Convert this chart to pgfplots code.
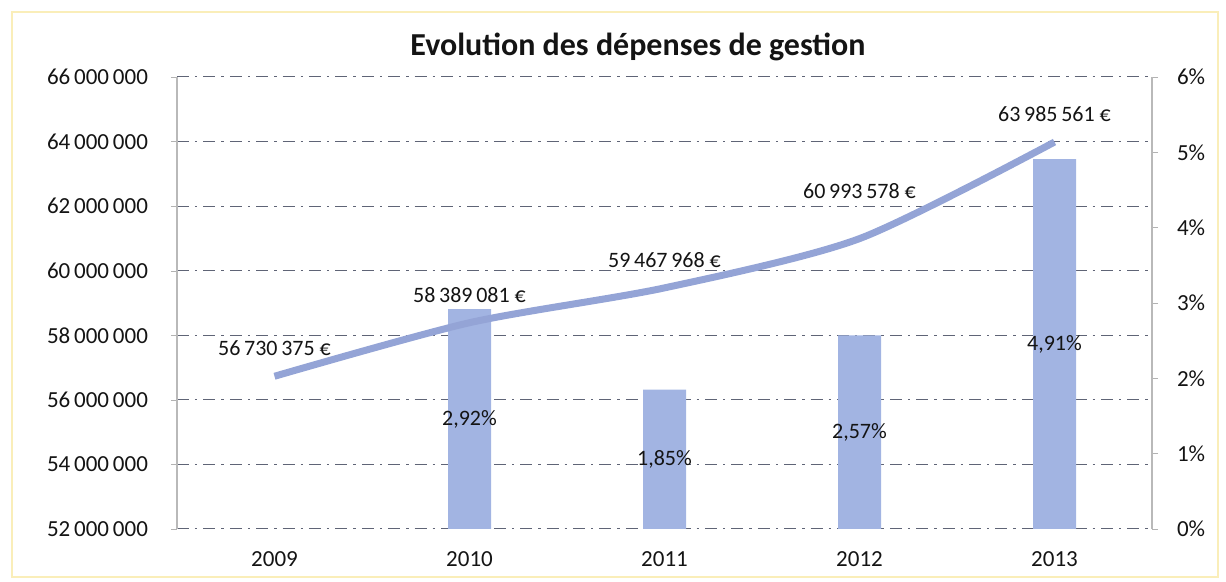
\documentclass[border=0pt]{standalone}
\usepackage{pgfplots}
\pgfplotsset{compat=1.18}
\usepackage{fontspec}
\setmainfont{Carlito}
\definecolor{barblue}{RGB}{162,180,226}
\definecolor{lineblue}{RGB}{148,164,214}
\definecolor{gridc}{RGB}{95,100,118}
\definecolor{framey}{RGB}{250,238,185}
\definecolor{txt}{RGB}{20,20,20}
\begin{document}
\begin{tikzpicture}
\pgfplotsset{
  base/.style={at={(0,0)}, anchor=south west, scale only axis,
    width=487.5pt, height=226pt, xmin=-0.5, xmax=4.5,
    /pgf/number format/assume math mode=true,
    tick label style={font=\fontsize{11.5}{13}\selectfont, text=txt}},
}
\path[use as bounding box] (-88.5pt,-26.5pt) rectangle (524.5pt,264.5pt);
\draw[framey, line width=1.2pt] (-82.5pt,-24pt) rectangle (520.5pt,258.5pt);

% Axis A: left scale, grid, year labels
\begin{axis}[base,
  ymin=52000000, ymax=66000000,
  ytick={52000000,54000000,56000000,58000000,60000000,62000000,64000000,66000000},
  scaled y ticks=false,
  yticklabel style={/tikz/xshift=-8pt, /pgf/number format/.cd, fixed, precision=0, 1000 sep={\,}},
  axis y line*=left, axis x line*=bottom,
  x axis line style={draw=none},
  y axis line style={gray!55, line width=0.6pt},
  xtick={0,1,2,3,4}, xticklabels={2009,2010,2011,2012,2013},
  major x tick style={draw=none},
  xticklabel style={yshift=-5pt},
  tick align=outside, major tick length=3pt, major y tick style={gray!60},
  ymajorgrids, major grid style={gridc, line width=0.5pt, dash pattern=on 6pt off 3pt on 1.2pt off 3pt},
]
\addplot[draw=none] coordinates {(0,52000000)};
\end{axis}

% Axis B: bars, right scale
\begin{axis}[base,
  ymin=0, ymax=6, ytick={0,1,2,3,4,5,6},
  yticklabel={\pgfmathprintnumber{\tick}\%},
  axis y line*=right, hide x axis,
  y axis line style={gray!55, line width=0.6pt},
  tick align=outside, major tick length=3pt, major y tick style={gray!60},
  yticklabel style={xshift=6pt},
]
\addplot[ybar, bar width=21.5pt, fill=barblue, draw=none,
  nodes near coords, point meta=explicit symbolic,
  visualization depends on={rawy \as \rawy},
  every node near coord/.append style={anchor=center, yshift=-\rawy*18.83pt,
    font=\fontsize{11}{13}\selectfont, text=txt}]
  coordinates {(1,2.92) [2,92\%] (2,1.85) [1,85\%] (3,2.57) [2,57\%] (4,4.91) [4,91\%]};
\end{axis}

% Axis C: line, left scale
\begin{axis}[base, ymin=52000000, ymax=66000000, hide axis]
\addplot[lineblue, line width=3.5pt, smooth, tension=0.45,
  nodes near coords, point meta=explicit symbolic,
  every node near coord/.append style={anchor=south, yshift=5pt,
    font=\fontsize{11}{13}\selectfont, text=txt}]
  coordinates {(0,56730375) [56\,730\,375~€]
               (1,58389081) [58\,389\,081~€]
               (2,59467968) [59\,467\,968~€]
               (3,60993578) [\raisebox{10pt}{60\,993\,578~€}]
               (4,63985561) [63\,985\,561~€]};
\end{axis}

\node[font=\fontsize{16}{19}\bfseries\selectfont, text=txt] at (230.5pt,241pt) {Evolution des dépenses de gestion};
\end{tikzpicture}
\end{document}
